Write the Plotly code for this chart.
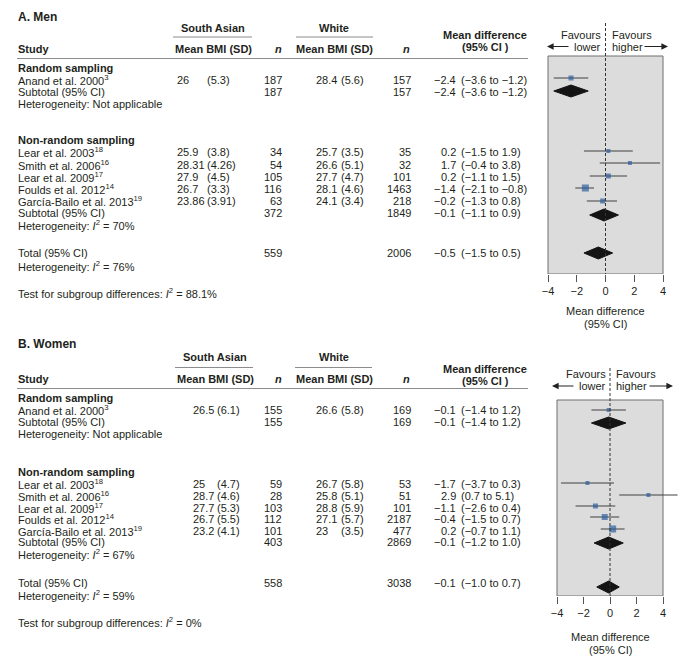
import plotly.graph_objects as go

# ---------------- data ----------------
studies = ["Anand et al. 2000", "Lear et al. 2003", "Smith et al. 2006",
           "Lear et al. 2009", "Foulds et al. 2012", "García-Bailo et al. 2013"]
refs = ["3", "18", "16", "17", "14", "19"]
group = ["random", "nonrandom", "nonrandom", "nonrandom", "nonrandom", "nonrandom"]

# Men
men_sa_mean = [26, 25.9, 28.31, 27.9, 26.7, 23.86]
men_sa_sd = [5.3, 3.8, 4.26, 4.5, 3.3, 3.91]
men_sa_n = [187, 34, 54, 105, 116, 63]
men_w_mean = [28.4, 25.7, 26.6, 27.7, 28.1, 24.1]
men_w_sd = [5.6, 3.5, 5.1, 4.7, 4.6, 3.4]
men_w_n = [157, 35, 32, 101, 1463, 218]
men_md = [-2.4, 0.2, 1.7, 0.2, -1.4, -0.2]
men_lo = [-3.6, -1.5, -0.4, -1.1, -2.1, -1.3]
men_hi = [-1.2, 1.9, 3.8, 1.5, -0.8, 0.8]
# summaries: subtotal random, subtotal non-random, total
men_sum_sa_n = [187, 372, 559]
men_sum_w_n = [157, 1849, 2006]
men_sum_md = [-2.4, -0.1, -0.5]
men_sum_lo = [-3.6, -1.1, -1.5]
men_sum_hi = [-1.2, 0.9, 0.5]
men_het = ["Not applicable", "70%", "76%"]
men_test = "88.1%"

# Women
wom_sa_mean = [26.5, 25, 28.7, 27.7, 26.7, 23.2]
wom_sa_sd = [6.1, 4.7, 4.6, 5.3, 5.5, 4.1]
wom_sa_n = [155, 59, 28, 103, 112, 101]
wom_w_mean = [26.6, 26.7, 25.8, 28.8, 27.1, 23]
wom_w_sd = [5.8, 5.8, 5.1, 5.9, 5.7, 3.5]
wom_w_n = [169, 53, 51, 101, 2187, 477]
wom_md = [-0.1, -1.7, 2.9, -1.1, -0.4, 0.2]
wom_lo = [-1.4, -3.7, 0.7, -2.6, -1.5, -0.7]
wom_hi = [1.2, 0.3, 5.1, 0.4, 0.7, 1.1]
wom_sum_sa_n = [155, 403, 558]
wom_sum_w_n = [169, 2869, 3038]
wom_sum_md = [-0.1, -0.1, -0.1]
wom_sum_lo = [-1.4, -1.2, -1.0]
wom_sum_hi = [1.2, 1.0, 0.7]
wom_het = ["Not applicable", "67%", "59%"]
wom_test = "0%"

tick_vals = [-4, -2, 0, 2, 4]

# ---------------- layout (pixel positions) ----------------
W, H = 694, 668
TXT = "#231f20"
FONT = "Liberation Sans, Arial, Helvetica, sans-serif"


def fx(x):
    return x / W


def fy(y):
    return 1 - y / H


def m(v):
    return str(v).replace("-", "\u2212")


panels = [
    dict(title="A. Men", sa_mean=men_sa_mean, sa_sd=men_sa_sd, sa_n=men_sa_n,
         w_mean=men_w_mean, w_sd=men_w_sd, w_n=men_w_n, md=men_md, lo=men_lo, hi=men_hi,
         s_sa=men_sum_sa_n, s_w=men_sum_w_n, s_md=men_sum_md, s_lo=men_sum_lo, s_hi=men_sum_hi,
         het=men_het, test=men_test,
         # style / positions
         marker_px=[5, 4, 4, 5, 7, 5],
         y=dict(title=17, head1=27.5, uline=37, head2=48.5, mdh1=34.5, mdh2=46.5, hline=58.5,
                rand=67.5, rows=[80, 152, 164.5, 176.5, 188.5, 200.5], sub=[92, 213], het=[104, 225.5],
                nonrand=139.5, total=253, het_t=265.5, test=293,
                mrows=[78, 151, 163, 176, 188, 201], dia=[91, 215, 253],
                fav1=34.5, fav2=46.5, dash_top=23, box_top=56, box_bot=274, dom_top=20,
                xt1=311, xt2=324),
         x=dict(sa_mean=176, sa_sd=206, sa_n=283, w_mean=315, w_sd=340, w_n=412,
                sa_head=213, w_head=334, md_head=485, sa_line=(173, 252), w_line=(296, 373),
                zero=605.5, left=548, right=663, arrL=(570, 547), arrR=(643, 668))),
    dict(title="B. Women", sa_mean=wom_sa_mean, sa_sd=wom_sa_sd, sa_n=wom_sa_n,
         w_mean=wom_w_mean, w_sd=wom_w_sd, w_n=wom_w_n, md=wom_md, lo=wom_lo, hi=wom_hi,
         s_sa=wom_sum_sa_n, s_w=wom_sum_w_n, s_md=wom_sum_md, s_lo=wom_sum_lo, s_hi=wom_sum_hi,
         het=wom_het, test=wom_test,
         marker_px=[4, 4, 4, 5, 6, 7],
         y=dict(title=344, head1=357, uline=367.5, head2=379, mdh1=369, mdh2=381, hline=388.5,
                rand=398, rows=[410, 484, 496, 507.5, 519, 530.5], sub=[422, 542], het=[434, 553.5],
                nonrand=472, total=583, het_t=594.5, test=622,
                mrows=[410, 483, 495, 506, 517, 529], dia=[423, 543, 587],
                fav1=374, fav2=386, dash_top=368, box_top=400, box_bot=596, dom_top=360,
                xt1=637, xt2=650),
         x=dict(sa_mean=192, sa_sd=216, sa_n=283, w_mean=315, w_sd=340, w_n=412,
                sa_head=215, w_head=334, md_head=485, sa_line=(175, 253), w_line=(295, 372),
                zero=610, left=557, right=663, arrL=(575, 552), arrR=(648, 673))),
]

STUDY_X = 17
EST_X = 456.5
CI_X = 460
HLINE_X = (17, 528)
DOM_X = (528, 692)

fig = go.Figure()
annotations = []
shapes = []


def ann(x, y, text, anchor="left", size=11, color=TXT):
    annotations.append(dict(x=fx(x), y=fy(y), xref="paper", yref="paper", text=text,
                            showarrow=False, xanchor=anchor, yanchor="middle",
                            font=dict(size=size, color=color, family=FONT), borderpad=0))


def hline(x0, x1, y, color="#8c8c8c", width=1):
    shapes.append(dict(type="line", xref="paper", yref="paper", x0=fx(x0), x1=fx(x1),
                       y0=fy(y), y1=fy(y), line=dict(color=color, width=width)))


for k, p in enumerate(panels):
    Y, X = p["y"], p["x"]
    xa = "x" if k == 0 else "x2"
    ya = "y" if k == 0 else "y2"
    # headings
    ann(STUDY_X, Y["title"], "<b>%s</b>" % p["title"], size=12)
    ann(X["sa_head"], Y["head1"], "<b>South Asian</b>", "center")
    ann(X["w_head"], Y["head1"], "<b>White</b>", "center")
    hline(X["sa_line"][0], X["sa_line"][1], Y["uline"])
    hline(X["w_line"][0], X["w_line"][1], Y["uline"])
    ann(STUDY_X, Y["head2"], "<b>Study</b>")
    ann(X["sa_head"], Y["head2"], "<b>Mean BMI (SD)</b>", "center")
    ann(X["sa_n"] - 5, Y["head2"], "<b><i>n</i></b>", "center")
    ann(X["w_head"], Y["head2"], "<b>Mean BMI (SD)</b>", "center")
    ann(X["w_n"] - 6, Y["head2"], "<b><i>n</i></b>", "center")
    ann(X["md_head"], Y["mdh1"], "<b>Mean difference</b>", "center")
    ann(X["md_head"], Y["mdh2"], "<b>(95% CI )</b>", "center")
    hline(HLINE_X[0], HLINE_X[1], Y["hline"])

    ann(STUDY_X, Y["rand"], "<b>Random sampling</b>")
    ann(STUDY_X, Y["nonrand"], "<b>Non-random sampling</b>")

    # study rows
    for i in range(len(studies)):
        yy = Y["rows"][i]
        ann(STUDY_X, yy, "%s<sup>%s</sup>" % (studies[i], refs[i]))
        ann(X["sa_mean"], yy, "%g" % p["sa_mean"][i])
        ann(X["sa_sd"], yy, "(%g)" % p["sa_sd"][i])
        ann(X["sa_n"], yy, "%d" % p["sa_n"][i], "right")
        ann(X["w_mean"], yy, "%g" % p["w_mean"][i])
        ann(X["w_sd"], yy, "(%g)" % p["w_sd"][i])
        ann(X["w_n"], yy, "%d" % p["w_n"][i], "right")
        ann(EST_X, yy, m("%.1f" % p["md"][i]), "right")
        ann(CI_X, yy, m("(%.1f to %.1f)" % (p["lo"][i], p["hi"][i])))

    # summary rows
    sum_y = [Y["sub"][0], Y["sub"][1], Y["total"]]
    sum_lbl = ["Subtotal (95% CI)", "Subtotal (95% CI)", "Total (95% CI)"]
    het_y = [Y["het"][0], Y["het"][1], Y["het_t"]]
    for j in range(3):
        yy = sum_y[j]
        ann(STUDY_X, yy, sum_lbl[j])
        ann(X["sa_n"], yy, "%d" % p["s_sa"][j], "right")
        ann(X["w_n"], yy, "%d" % p["s_w"][j], "right")
        ann(EST_X, yy, m("%.1f" % p["s_md"][j]), "right")
        ann(CI_X, yy, m("(%.1f to %.1f)" % (p["s_lo"][j], p["s_hi"][j])))
        h = p["het"][j]
        if h == "Not applicable":
            ann(STUDY_X, het_y[j], "Heterogeneity: Not applicable")
        else:
            ann(STUDY_X, het_y[j], "Heterogeneity: <i>I</i><sup>2</sup> = %s" % h)
    ann(STUDY_X, Y["test"], "Test for subgroup differences: <i>I</i><sup>2</sup> = %s" % p["test"])

    # ---------- forest plot ----------
    scale = (X["right"] - X["left"]) / 8.0
    xr = [(DOM_X[0] - X["zero"]) / scale, (DOM_X[1] - X["zero"]) / scale]
    yr = [Y["box_bot"], Y["dom_top"]]
    # box
    shapes.append(dict(type="rect", xref=xa, yref=ya, x0=-4, x1=4, y0=Y["box_top"], y1=Y["box_bot"],
                       fillcolor="#dcdcdc", line=dict(color="#6e6e6e", width=1), layer="below"))
    shapes.append(dict(type="line", xref=xa, yref=ya, x0=0, x1=0, y0=Y["dash_top"], y1=Y["box_bot"],
                       line=dict(color="#333333", width=1, dash="3px,2px"), layer="above"))
    # CI lines
    lx, ly = [], []
    for i in range(len(studies)):
        lx += [p["lo"][i], p["hi"][i], None]
        ly += [Y["mrows"][i], Y["mrows"][i], None]
    fig.add_trace(go.Scatter(x=lx, y=ly, mode="lines", line=dict(color="#404040", width=1),
                             xaxis=xa, yaxis=ya, hoverinfo="skip", cliponaxis=False))
    fig.add_trace(go.Scatter(x=p["md"], y=Y["mrows"], mode="markers",
                             marker=dict(symbol="square", size=p["marker_px"], color="#2f609e",
                                         line=dict(width=0)),
                             xaxis=xa, yaxis=ya, hoverinfo="skip", cliponaxis=False))
    # diamonds
    for j in range(3):
        yc = Y["dia"][j]
        hh = 6
        fig.add_trace(go.Scatter(x=[p["s_lo"][j], p["s_md"][j], p["s_hi"][j], p["s_md"][j], p["s_lo"][j]],
                                 y=[yc, yc - hh, yc, yc + hh, yc], mode="lines", fill="toself",
                                 fillcolor="#141414", line=dict(color="#141414", width=1),
                                 xaxis=xa, yaxis=ya, hoverinfo="skip"))
    # favours labels
    ann(X["zero"] - 3.5, Y["fav1"], "Favours", "right")
    ann(X["zero"] - 3.5, Y["fav2"], "lower", "right")
    ann(X["zero"] + 5, Y["fav1"], "Favours", "left")
    ann(X["zero"] + 5, Y["fav2"], "higher", "left")
    for (tail, head) in [X["arrL"], X["arrR"]]:
        annotations.append(dict(x=fx(head), y=fy(Y["fav2"]), xref="paper", yref="paper", text="",
                                showarrow=True, ax=tail - head, ay=0, arrowhead=2, arrowsize=1.1,
                                arrowwidth=1.2, arrowcolor="#222222", standoff=0, startstandoff=0))
    ann(X["zero"], Y["xt1"], "Mean difference", "center")
    ann(X["zero"], Y["xt2"], "(95% CI)", "center")

    axis_x = dict(domain=[fx(DOM_X[0]), fx(DOM_X[1])], range=xr, tickvals=tick_vals,
                  ticks="outside", ticklen=7, tickcolor="#555555", tickwidth=1,
                  showline=False, zeroline=False, showgrid=False, anchor=ya,
                  tickfont=dict(size=11, color=TXT, family=FONT), fixedrange=True)
    axis_y = dict(domain=[fy(Y["box_bot"]), fy(Y["dom_top"])], range=yr, visible=False,
                  showgrid=False, zeroline=False, anchor=xa, fixedrange=True)
    if k == 0:
        fig.update_layout(xaxis=axis_x, yaxis=axis_y)
    else:
        fig.update_layout(xaxis2=axis_x, yaxis2=axis_y)

fig.update_layout(width=W, height=H, margin=dict(l=0, r=0, t=0, b=0),
                  paper_bgcolor="white", plot_bgcolor="rgba(0,0,0,0)", showlegend=False,
                  annotations=annotations, shapes=shapes,
                  font=dict(family=FONT, size=11, color=TXT))
fig.write_html("out.html", config={"displayModeBar": False, "staticPlot": True},
               post_script="document.body.style.margin='0';document.body.style.padding='0';")
